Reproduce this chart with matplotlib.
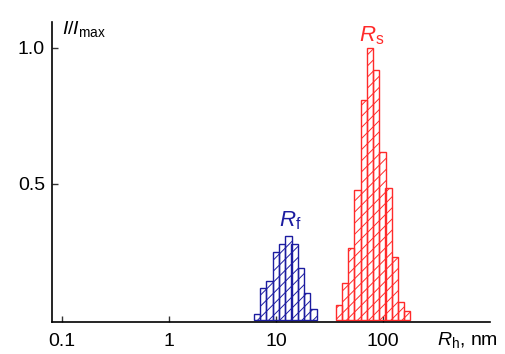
import numpy as np
import matplotlib
matplotlib.use("Agg")
import matplotlib.pyplot as plt

plt.rcParams['font.family'] = ['Liberation Sans', 'DejaVu Sans']
plt.rcParams['mathtext.fontset'] = 'custom'
plt.rcParams['mathtext.rm'] = 'Liberation Sans'
plt.rcParams['mathtext.it'] = 'Liberation Sans:italic'
plt.rcParams['hatch.linewidth'] = 0.7

# Fast fraction (R_f): bin centres in nm and normalised intensity
rf_size = [6.64, 7.60, 8.70, 9.96, 11.4, 13.1, 14.9, 17.1, 19.6, 22.4]
rf_int = [0.022, 0.117, 0.143, 0.249, 0.278, 0.31, 0.28, 0.19, 0.10, 0.04]

# Slow fraction (R_s)
rs_size = [38.8, 44.4, 50.7, 58.0, 66.3, 75.8, 86.6, 99.0, 113, 129, 148, 169]
rs_int = [0.055, 0.135, 0.264, 0.476, 0.809, 1.0, 0.92, 0.617, 0.487, 0.233, 0.065, 0.033]

xticks = [0.1, 1, 10, 100]
xticklabels = ["0.1", "1", "10", "100"]

bin_ratio = 1.145


def draw_hist(ax, centres, heights, color):
    c = np.array(centres)
    left = c / np.sqrt(bin_ratio)
    right = c * np.sqrt(bin_ratio)
    ax.bar(left, heights, width=right - left, align='edge', fill=False,
           edgecolor=color, hatch='///', linewidth=1.0, zorder=2)


def main():
    fig = plt.figure(figsize=(5.05, 3.54), dpi=100)
    ax = fig.add_axes([0.103, 0.0904, 0.867, 0.8476])

    draw_hist(ax, rf_size, rf_int, '#1c1ca0')
    draw_hist(ax, rs_size, rs_int, '#ff2a2a')

    ax.set_xscale('log')
    ax.set_xlim(0.0806, 1000)
    ax.set_ylim(-0.0074, 1.0956)

    ax.set_xticks(xticks)
    ax.set_xticklabels(xticklabels)
    ax.minorticks_off()
    ax.set_yticks([0.5, 1.0])
    ax.set_yticklabels(["0.5", "1.0"])
    ax.tick_params(direction='in', length=4, width=1, labelsize=14, color='#333333')
    ax.tick_params(axis='x', pad=8)
    ax.tick_params(axis='y', pad=5)

    for s in ['top', 'right']:
        ax.spines[s].set_visible(False)
    for s in ['left', 'bottom']:
        ax.spines[s].set_linewidth(1.2)
        ax.spines[s].set_zorder(3)

    ax.text(13.5, 0.325, r'$\mathit{R}_\mathrm{f}$', color='#1c1ca0', fontsize=16,
            ha='center', va='bottom')
    ax.text(78, 1.005, r'$\mathit{R}_\mathrm{s}$', color='#ff2a2a', fontsize=16,
            ha='center', va='bottom')
    fig.text(0.123, 0.89, r'$\mathit{I/I}_\mathrm{max}$', fontsize=14,
             ha='left', va='bottom')
    fig.text(0.866, 0.012, r'$\mathit{R}_\mathrm{h}$, nm', fontsize=14,
             ha='left', va='bottom')

    fig.savefig('out.png', dpi=100)


if __name__ == "__main__":
    main()
